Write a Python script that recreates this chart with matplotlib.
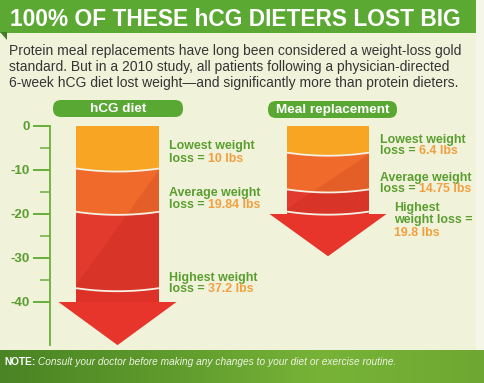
import matplotlib
matplotlib.use("Agg")
import matplotlib.pyplot as plt
import numpy as np
from matplotlib.patches import Polygon, FancyBboxPatch, Rectangle

# ---------------- data ----------------
title = "100% OF THESE hCG DIETERS LOST BIG"
intro_lines = [
    "Protein meal replacements have long been considered a weight-loss gold",
    "standard. But in a 2010 study, all patients following a physician-directed",
    "6-week hCG diet lost weight\u2014and significantly more than protein dieters.",
]
groups = ["hCG diet", "Meal replacement"]
hcg_loss = [10, 19.84, 37.2]
meal_loss = [6.4, 14.75, 19.8]
stat_names = ["Lowest weight", "Average weight", "Highest weight"]
yticks = [0, -10, -20, -30, -40]
ytick_labels = ["0", "-10", "-20", "-30", "-40"]
note_head = "NOTE:"
note_text = " Consult your doctor before making any changes to your diet or exercise routine."

# ---------------- style ----------------
W, H = 484, 383
BG = "#F1F2DA"
GREEN = "#5BA832"
TXT_GREEN = "#5A9E30"
ORANGE_TXT = "#F0A040"
BAND_COLORS = ["#F8A523", "#F06A2C", "#E23A2C"]
HEAD_COLOR = "#E8352B"
FONT = "Liberation Sans"

fig = plt.figure(figsize=(W / 100, H / 100), dpi=100)
fig.patch.set_facecolor(BG)

# pixel-coordinate background layer
bg = fig.add_axes([0, 0, 1, 1], zorder=0)
bg.set_xlim(0, W)
bg.set_ylim(H, 0)
bg.axis("off")

# data axes: y in lbs, 0 at px 126, 4.4 px per lb
PX0, PPL = 126, 4.4
ax = fig.add_axes([0, 0, 1, 1], zorder=1)
ax.set_xlim(0, W)
ax.set_ylim(-(H - PX0) / PPL, PX0 / PPL)
ax.patch.set_alpha(0)

# right page strip
bg.add_patch(Rectangle((476, 0), 8, 350, color="#F6F6E8", lw=0))

# title bar
bg.add_patch(Rectangle((0, 0), 476, 33, color=GREEN, lw=0))
bg.add_patch(Polygon([(0, 32), (7, 32), (7, 40)], closed=True, color="#3F7F22", lw=0))
bg.text(10, 25.5, title, color="white", fontsize=16.4, fontweight="bold",
        family=FONT, ha="left", va="baseline")

# intro text
for i, line in enumerate(intro_lines):
    bg.text(9, 55 + 16 * i, line, color="#353535", fontsize=10.0, family=FONT,
            ha="left", va="baseline")

# bottom note bar with gradient
grad = np.linspace(0, 1, 256)
cmap = matplotlib.colors.LinearSegmentedColormap.from_list(
    "g", ["#4A8424", "#5E9A2C", "#78B338", "#6EA832"])
bg.imshow(grad[None, :], extent=(0, W, 383, 350), aspect="auto", cmap=cmap, zorder=1)
t_note = bg.text(4, 367, note_head, color="white", fontsize=7.3, fontweight="bold",
                 family=FONT, ha="left", va="bottom", zorder=2)
bg.annotate(note_text, xy=(1, 0), xycoords=t_note, color="#EEF3E2", fontsize=7.3,
            fontstyle="italic", family=FONT, ha="left", va="bottom", zorder=2)

# ---------------- axis ----------------
axis_green = "#6AAE3A"
for s in ["top", "right", "bottom"]:
    ax.spines[s].set_visible(False)
ax.spines["left"].set_position(("data", 50))
ax.spines["left"].set_bounds(-(345 - PX0) / PPL, 0)
ax.spines["left"].set_color(axis_green)
ax.spines["left"].set_linewidth(1.3)
ax.set_xticks([])
ax.set_yticks(yticks)
ax.set_yticklabels(ytick_labels)
ax.set_yticks([-5, -15, -25, -35], minor=True)
ax.tick_params(axis="y", which="major", length=12, width=1.4, color=axis_green,
               labelcolor=TXT_GREEN, pad=2.5, labelsize=9.6)
ax.tick_params(axis="y", which="minor", length=7.5, width=1.1, color=axis_green)
for lab in ax.get_yticklabels():
    lab.set_fontweight("bold")
    lab.set_family(FONT)


# ---------------- arrows ----------------
def draw_arrow(cx, hw, hh, hl, values):
    sag = 0.7
    head_top = -np.ceil(values[-1] / 10.0) * 10
    tip = head_top - hl
    sil = Polygon([(cx - hw, 0), (cx + hw, 0), (cx + hw, head_top), (cx + hh, head_top),
                   (cx, tip), (cx - hh, head_top), (cx - hw, head_top)],
                  closed=True, color=HEAD_COLOR, lw=0, zorder=2)
    ax.add_patch(sil)
    xs = np.linspace(cx - hw, cx + hw, 60)

    def curve(v):
        return -v - sag * (1 - ((xs - cx) / hw) ** 2) + sag / 2

    prev = np.zeros_like(xs)
    for v, c in zip(values, BAND_COLORS):
        cur = curve(v)
        ax.fill(np.r_[xs, xs[::-1]], np.r_[prev, cur[::-1]], color=c, lw=0, zorder=3)
        prev = cur
    # diagonal shading
    shade = Polygon([(cx + hw, -values[0]), (cx + hw, head_top),
                     (cx - hw, head_top), (cx - hw, -values[-1] + 1)],
                    closed=True, color="#8A0A0A", alpha=0.11, lw=0, zorder=4)
    ax.add_patch(shade)
    shade.set_clip_path(sil)
    for v in values:
        ax.plot(xs, curve(v), color="#F6F1E4", lw=1.3, zorder=5, solid_capstyle="butt")


draw_arrow(117.5, 41.5, 59, 9.8, hcg_loss)
draw_arrow(328, 41, 58.5, 9.6, meal_loss)

# badges
for (x0, x1, y0, y1), name in zip([(53, 183, 100, 117), (268, 397, 101, 118)], groups):
    bg.add_patch(FancyBboxPatch((x0, y0), x1 - x0, y1 - y0,
                                boxstyle="round,pad=0,rounding_size=8",
                                mutation_aspect=1, color="#5AA834", lw=0))
    bg.text((x0 + x1) / 2, (y0 + y1) / 2 + 0.5, name, color="white", fontsize=9.7,
            fontweight="bold", family=FONT, ha="center", va="center")


# annotations
def two_tone(x, y, green_part, orange_part):
    t = bg.text(x, y, green_part, color=TXT_GREEN, fontsize=8.9, fontweight="bold",
                family=FONT, ha="left", va="bottom")
    if orange_part:
        bg.annotate(orange_part, xy=(1, 0), xycoords=t, color=ORANGE_TXT, fontsize=8.9,
                    fontweight="bold", family=FONT, ha="left", va="bottom")


def lbs(v):
    return f"{v:g} lbs"


hcg_base = [150, 196.5, 281]
for name, v, yb in zip(stat_names, hcg_loss, hcg_base):
    two_tone(169, yb + 2.5, name, "")
    two_tone(169, yb + 14.5, "loss = ", lbs(v))

meal_base = [143, 181]
for name, v, yb in zip(stat_names[:2], meal_loss[:2], meal_base):
    two_tone(380, yb + 2.5, name, "")
    two_tone(380, yb + 14.5, "loss = ", lbs(v))
two_tone(394, 212 + 2.5, "Highest", "")
two_tone(394, 224 + 2.5, "weight loss =", "")
two_tone(394, 236.5 + 2.5, "", lbs(meal_loss[2]))

fig.savefig("out.png", dpi=100, facecolor=BG)
